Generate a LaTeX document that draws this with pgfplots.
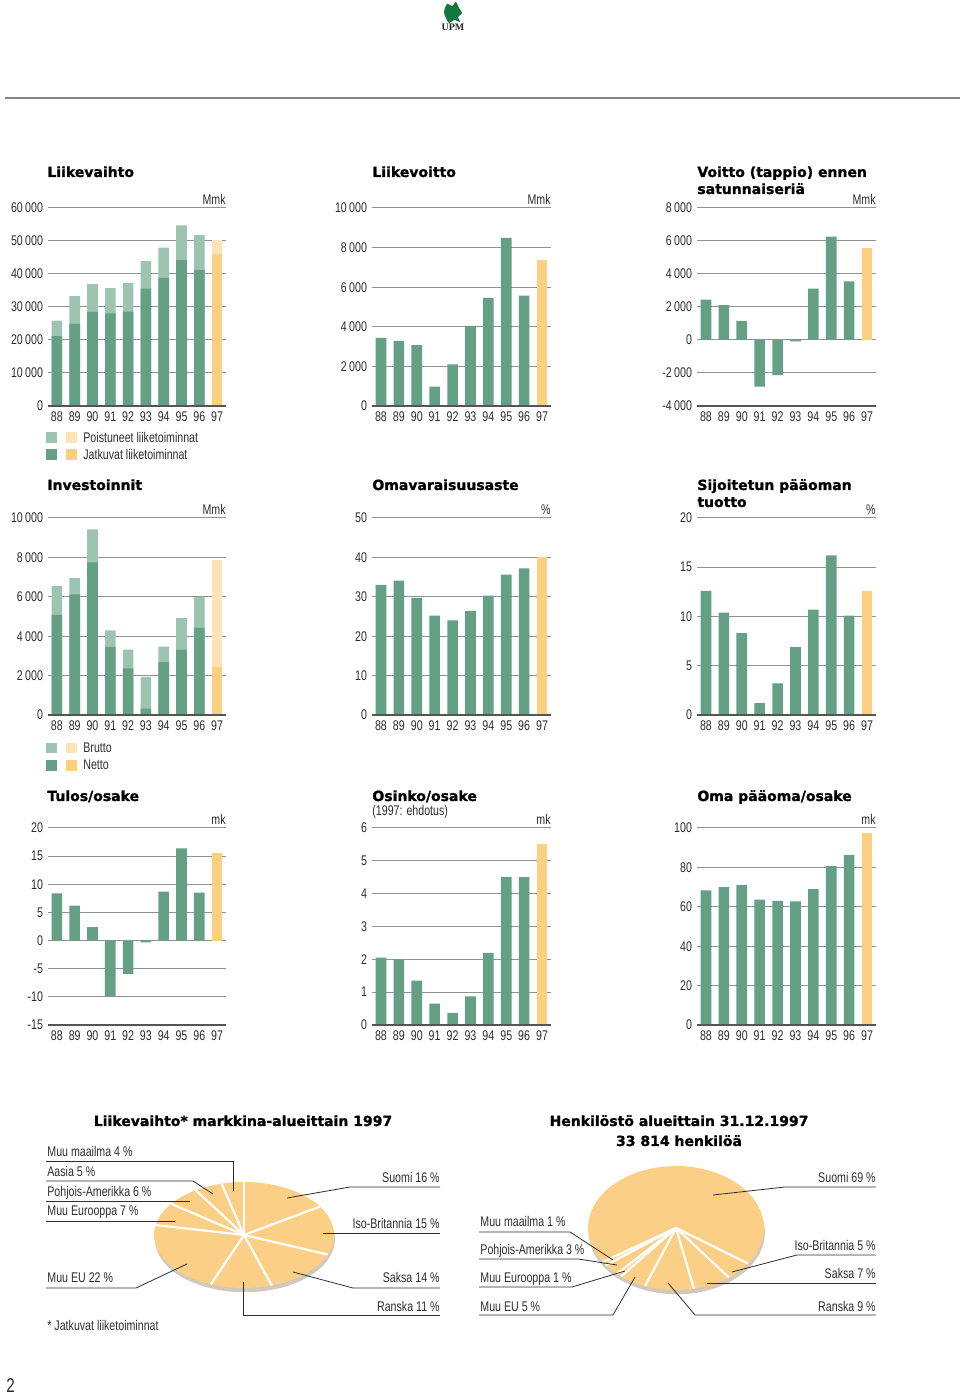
\documentclass[border=0pt]{standalone}
\usepackage{fontspec}
\setmainfont{Liberation Sans}[FakeStretch=0.76]
\newfontfamily\titlefont{DejaVu Sans}[BoldFeatures={FakeBold=1.2}]
\newfontfamily\serifbold{Liberation Serif}
\usepackage{pgfplots}
\pgfplotsset{compat=1.18}
\definecolor{dgreen}{RGB}{99,160,134}
\definecolor{lgreen}{RGB}{157,196,178}
\definecolor{dyellow}{RGB}{253,207,128}
\definecolor{lyellow}{RGB}{254,228,182}
\definecolor{pieyel}{RGB}{251,207,134}
\definecolor{pieshadow}{RGB}{210,201,188}
\definecolor{gridgray}{RGB}{145,145,145}
\definecolor{axcol}{RGB}{85,85,85}
\definecolor{labcol}{RGB}{45,45,45}
\definecolor{hdrgray}{RGB}{125,138,132}
\definecolor{upmgreen}{RGB}{20,120,60}
\newcommand\lab{\fontsize{7}{8.4}\selectfont}
\newcommand\ttl{\titlefont\bfseries\fontsize{7}{8.4}\selectfont}
\pgfplotsset{
  bc/.style={
    scale only axis, anchor=south west,
    ybar, bar width=5.3pt, bar shift=0pt,
    xmin=87.5, xmax=97.5, enlargelimits=false,
    xtick={88,89,90,91,92,93,94,95,96,97},
    xticklabels={88,89,90,91,92,93,94,95,96,97},
    scaled y ticks=false,
    axis line style={draw=none}, tick style={draw=none},
    ymajorgrids, grid style={gridgray, line width=0.5pt},
    tick label style={font=\lab, text=labcol},
    xticklabel style={yshift=5pt},
    yticklabel style={xshift=1pt},
    clip=false,
  },
  pie/.style={
    scale only axis, anchor=center, hide axis, clip=false,
    xmin=-1, xmax=1, ymin=-1, ymax=1, enlargelimits=false,
  },
}
\newcommand\bottomline{\draw[axcol, line width=0.6pt] (rel axis cs:0,0) -- (rel axis cs:1,0);}
\newcommand\unit[1]{\node[anchor=base east, font=\lab, text=labcol, inner sep=0pt] at (rel axis cs:1,1) [yshift=1.6pt] {#1};}
% start angle, cumulative percent from, to
\newcommand\pieslice[3]{\fill[pieyel] (axis cs:0,0) -- plot[domain={#1-3.6*#2}:{#1-3.6*#3}, samples=40, variable=\q] (axis cs:{cos(\q)},{sin(\q)}) -- cycle;}
\newcommand\piecut[2]{\draw[white, line width=1.1pt] (axis cs:0,0) -- (axis cs:{cos(#1-3.6*#2)},{sin(#1-3.6*#2)});}
\begin{document}
\begin{tikzpicture}[x=0.5pt, y=0.5pt]
\useasboundingbox (0,0) rectangle (960,1394);
% header
\draw[hdrgray, line width=1pt] (5,1296) -- (960,1296);
\fill[upmgreen] plot[smooth cycle] coordinates {(447,1390) (452,1388) (456,1392) (459,1386) (462,1381) (458,1377) (460,1372) (454,1374) (449,1371) (446,1376) (444,1382)};
\node[font=\serifbold\bfseries\fontsize{5}{6}\selectfont, text=black!85] at (453,1367) {UPM};
\node[anchor=base west, font=\fontsize{10}{12}\selectfont, text=labcol, inner sep=0pt] at (6,2) {2};

% ---------------- Row 1 ----------------
\node[anchor=base west, inner sep=0pt, font=\ttl] at (47,1217) {Liikevaihto};
\begin{axis}[bc, at={(24pt,494pt)}, width=89pt, height=99pt, ymin=0, ymax=60000,
  ytick={0,10000,20000,30000,40000,50000,60000},
  yticklabels={0,10\,000,20\,000,30\,000,40\,000,50\,000,60\,000}]
\addplot[fill=lgreen, draw=none] coordinates {(88,25900) (89,33300) (90,36900) (91,35700) (92,37300) (93,43900) (94,48000) (95,54700) (96,51800)};
\addplot[fill=lyellow, draw=none] coordinates {(97,50300)};
\addplot[fill=dgreen, draw=none] coordinates {(88,21200) (89,24900) (90,28500) (91,28100) (92,28600) (93,35600) (94,38800) (95,44200) (96,41200)};
\addplot[fill=dyellow, draw=none] coordinates {(97,46200)};
\bottomline
\unit{Mmk}
\end{axis}
\fill[lgreen] (46,951) rectangle (57,962);
\fill[lyellow] (66,951) rectangle (77,962);
\fill[dgreen] (46,934) rectangle (57,945);
\fill[dyellow] (66,934) rectangle (77,945);
\node[anchor=base west, inner sep=0pt, font=\lab, text=labcol] at (83,951) {Poistuneet liiketoiminnat};
\node[anchor=base west, inner sep=0pt, font=\lab, text=labcol] at (83,934) {Jatkuvat liiketoiminnat};

\node[anchor=base west, inner sep=0pt, font=\ttl] at (372,1217) {Liikevoitto};
\begin{axis}[bc, at={(186pt,494pt)}, width=89.5pt, height=99pt, ymin=0, ymax=10000,
  ytick={0,2000,4000,6000,8000,10000},
  yticklabels={0,2\,000,4\,000,6\,000,8\,000,10\,000}]
\addplot[fill=dgreen, draw=none] coordinates {(88,3440) (89,3270) (90,3070) (91,980) (92,2100) (93,4050) (94,5460) (95,8490) (96,5580)};
\addplot[fill=dyellow, draw=none] coordinates {(97,7370)};
\bottomline
\unit{Mmk}
\end{axis}

\node[anchor=base west, inner sep=0pt, font=\ttl] at (697,1217) {Voitto (tappio) ennen};
\node[anchor=base west, inner sep=0pt, font=\ttl] at (697,1200) {satunnaiseriä};
\begin{axis}[bc, at={(348.5pt,494pt)}, width=89.5pt, height=99pt, ymin=-4000, ymax=8000,
  ytick={-4000,-2000,0,2000,4000,6000,8000},
  yticklabels={-4\,000,-2\,000,0,2\,000,4\,000,6\,000,8\,000}]
\addplot[fill=dgreen, draw=none] coordinates {(88,2440) (89,2110) (90,1160) (91,-2820) (92,-2130) (93,-80) (94,3110) (95,6270) (96,3550)};
\addplot[fill=dyellow, draw=none] coordinates {(97,5580)};
\bottomline
\unit{Mmk}
\end{axis}

% ---------------- Row 2 ----------------
\node[anchor=base west, inner sep=0pt, font=\ttl] at (47,904) {Investoinnit};
\begin{axis}[bc, at={(24pt,339.5pt)}, width=89pt, height=98.5pt, ymin=0, ymax=10000,
  ytick={0,2000,4000,6000,8000,10000},
  yticklabels={0,2\,000,4\,000,6\,000,8\,000,10\,000}]
\addplot[fill=lgreen, draw=none] coordinates {(88,6540) (89,6950) (90,9420) (91,4290) (92,3320) (93,1930) (94,3470) (95,4920) (96,6000)};
\addplot[fill=lyellow, draw=none] coordinates {(97,7880)};
\addplot[fill=dgreen, draw=none] coordinates {(88,5080) (89,6120) (90,7750) (91,3460) (92,2370) (93,320) (94,2690) (95,3320) (96,4420)};
\addplot[fill=dyellow, draw=none] coordinates {(97,2460)};
\bottomline
\unit{Mmk}
\end{axis}
\fill[lgreen] (46,641) rectangle (57,651);
\fill[lyellow] (66,641) rectangle (77,651);
\fill[dgreen] (46,623) rectangle (57,634);
\fill[dyellow] (66,623) rectangle (77,634);
\node[anchor=base west, inner sep=0pt, font=\lab, text=labcol] at (83,641) {Brutto};
\node[anchor=base west, inner sep=0pt, font=\lab, text=labcol] at (83,624) {Netto};

\node[anchor=base west, inner sep=0pt, font=\ttl] at (372,904) {Omavaraisuusaste};
\begin{axis}[bc, at={(186pt,339.5pt)}, width=89.5pt, height=98.5pt, ymin=0, ymax=50,
  ytick={0,10,20,30,40,50}, yticklabels={0,10,20,30,40,50}]
\addplot[fill=dgreen, draw=none] coordinates {(88,33.0) (89,34.1) (90,29.7) (91,25.2) (92,24.0) (93,26.4) (94,30.3) (95,35.6) (96,37.2)};
\addplot[fill=dyellow, draw=none] coordinates {(97,40.0)};
\bottomline
\unit{\%}
\end{axis}

\node[anchor=base west, inner sep=0pt, font=\ttl] at (697,904) {Sijoitetun pääoman};
\node[anchor=base west, inner sep=0pt, font=\ttl] at (697,887) {tuotto};
\begin{axis}[bc, at={(348.5pt,339.5pt)}, width=89.5pt, height=98.5pt, ymin=0, ymax=20,
  ytick={0,5,10,15,20}, yticklabels={0,5,10,15,20}]
\addplot[fill=dgreen, draw=none] coordinates {(88,12.6) (89,10.4) (90,8.3) (91,1.2) (92,3.2) (93,6.9) (94,10.7) (95,16.2) (96,10.1)};
\addplot[fill=dyellow, draw=none] coordinates {(97,12.6)};
\bottomline
\unit{\%}
\end{axis}

% ---------------- Row 3 ----------------
\node[anchor=base west, inner sep=0pt, font=\ttl] at (47,593) {Tulos/osake};
\begin{axis}[bc, at={(24pt,184.5pt)}, width=89pt, height=98.5pt, ymin=-15, ymax=20,
  ytick={-15,-10,-5,0,5,10,15,20}, yticklabels={-15,-10,-5,0,5,10,15,20}]
\addplot[fill=dgreen, draw=none] coordinates {(88,8.4) (89,6.2) (90,2.4) (91,-9.9) (92,-5.9) (93,-0.3) (94,8.7) (95,16.4) (96,8.5)};
\addplot[fill=dyellow, draw=none] coordinates {(97,15.5)};
\bottomline
\unit{mk}
\end{axis}

\node[anchor=base west, inner sep=0pt, font=\ttl] at (372,593) {Osinko/osake};
\node[anchor=base west, inner sep=0pt, font=\lab, text=labcol] at (372,578) {(1997: ehdotus)};
\begin{axis}[bc, at={(186pt,184.5pt)}, width=89.5pt, height=98.5pt, ymin=0, ymax=6,
  ytick={0,1,2,3,4,5,6}, yticklabels={0,1,2,3,4,5,6}]
\addplot[fill=dgreen, draw=none] coordinates {(88,2.05) (89,2.0) (90,1.35) (91,0.65) (92,0.37) (93,0.87) (94,2.2) (95,4.5) (96,4.5)};
\addplot[fill=dyellow, draw=none] coordinates {(97,5.5)};
\bottomline
\unit{mk}
\end{axis}

\node[anchor=base west, inner sep=0pt, font=\ttl] at (697,593) {Oma pääoma/osake};
\begin{axis}[bc, at={(348.5pt,184.5pt)}, width=89.5pt, height=98.5pt, ymin=0, ymax=100,
  ytick={0,20,40,60,80,100}, yticklabels={0,20,40,60,80,100}]
\addplot[fill=dgreen, draw=none] coordinates {(88,68.3) (89,70.0) (90,71.0) (91,63.6) (92,63.0) (93,62.7) (94,69.0) (95,80.7) (96,86.3)};
\addplot[fill=dyellow, draw=none] coordinates {(97,97.6)};
\bottomline
\unit{mk}
\end{axis}

% ---------------- Pies ----------------
\node[anchor=base, inner sep=0pt, font=\ttl] at (243,268) {Liikevaihto* markkina-alueittain 1997};
\begin{axis}[pie, at={(122pt,79.5pt)}, width=90pt, height=53pt]
\fill[pieshadow] plot[domain=0:360, samples=90, variable=\q] (axis cs:{cos(\q)+0.01},{sin(\q)-0.08}) -- cycle;
% Suomi 16, Iso-Britannia 15, Saksa 14, Ranska 11, Muu EU 22, Muu Eurooppa 7, Pohjois-Amerikka 6, Aasia 5, Muu maailma 4
\pieslice{90}{0}{16}
\pieslice{90}{16}{31}
\pieslice{90}{31}{45}
\pieslice{90}{45}{56}
\pieslice{90}{56}{78}
\pieslice{90}{78}{85}
\pieslice{90}{85}{91}
\pieslice{90}{91}{96}
\pieslice{90}{96}{100}
\piecut{90}{0}\piecut{90}{16}\piecut{90}{31}\piecut{90}{45}\piecut{90}{56}
\piecut{90}{78}\piecut{90}{85}\piecut{90}{91}\piecut{90}{96}
\end{axis}
\begin{scope}[labcol, line width=0.4pt]
\draw (46,233) -- (233,233) -- (233,203);
\draw (46,213) -- (193,213) -- (213,200);
\draw (46,193) -- (190,193);
\draw (46,173) -- (175,173);
\draw (46,106) -- (136,106) -- (187,130);
\draw (440,207) -- (350,207) -- (287,196);
\draw (440,161) -- (323,161);
\draw (440,106) -- (353,106) -- (293,122);
\draw (440,79) -- (243,79) -- (243,112);
\end{scope}
\begin{scope}[every node/.style={inner sep=0pt, font=\lab, text=labcol}]
\node[anchor=base west] at (47,237) {Muu maailma 4 \%};
\node[anchor=base west] at (47,217) {Aasia 5 \%};
\node[anchor=base west] at (47,197) {Pohjois-Amerikka 6 \%};
\node[anchor=base west] at (47,178) {Muu Eurooppa 7 \%};
\node[anchor=base west] at (47,111) {Muu EU 22 \%};
\node[anchor=base east] at (440,211) {Suomi 16 \%};
\node[anchor=base east] at (440,165) {Iso-Britannia 15 \%};
\node[anchor=base east] at (440,111) {Saksa 14 \%};
\node[anchor=base east] at (440,83) {Ranska 11 \%};
\node[anchor=base west] at (47,63) {* Jatkuvat liiketoiminnat};
\end{scope}

\node[anchor=base, inner sep=0pt, font=\ttl] at (679,268) {Henkilöstö alueittain 31.12.1997};
\node[anchor=base, inner sep=0pt, font=\ttl] at (679,248) {33 814 henkilöä};
\begin{axis}[pie, at={(338pt,83pt)}, width=88pt, height=62pt]
\fill[pieshadow] plot[domain=0:360, samples=90, variable=\q] (axis cs:{cos(\q)+0.01},{sin(\q)-0.07}) -- cycle;
% Suomi 69, Iso-Britannia 5, Saksa 7, Ranska 9, Muu EU 5, Muu Eurooppa 1, Pohjois-Amerikka 3, Muu maailma 1
\pieslice{213.4}{0}{69}
\pieslice{213.4}{69}{74}
\pieslice{213.4}{74}{81}
\pieslice{213.4}{81}{90}
\pieslice{213.4}{90}{95}
\pieslice{213.4}{95}{96}
\pieslice{213.4}{96}{99}
\pieslice{213.4}{99}{100}
\piecut{213.4}{0}\piecut{213.4}{69}\piecut{213.4}{74}\piecut{213.4}{81}
\piecut{213.4}{90}\piecut{213.4}{95}\piecut{213.4}{96}\piecut{213.4}{99}
\end{axis}
\begin{scope}[labcol, line width=0.4pt]
\draw (876,207) -- (785,207) -- (713,199);
\draw (876,139) -- (797,139) -- (732,122);
\draw (876,111) -- (707,111);
\draw (876,79) -- (695,79) -- (668,111);
\draw (479,162) -- (570,162) -- (613,134);
\draw (479,135) -- (578,135) -- (617,129);
\draw (479,107) -- (572,107) -- (625,123);
\draw (479,79) -- (613,79) -- (635,117);
\end{scope}
\begin{scope}[every node/.style={inner sep=0pt, font=\lab, text=labcol}]
\node[anchor=base east] at (876,211) {Suomi 69 \%};
\node[anchor=base east] at (876,143) {Iso-Britannia 5 \%};
\node[anchor=base east] at (876,115) {Saksa 7 \%};
\node[anchor=base east] at (876,83) {Ranska 9 \%};
\node[anchor=base west] at (480,167) {Muu maailma 1 \%};
\node[anchor=base west] at (480,139) {Pohjois-Amerikka 3 \%};
\node[anchor=base west] at (480,111) {Muu Eurooppa 1 \%};
\node[anchor=base west] at (480,83) {Muu EU 5 \%};
\end{scope}
\end{tikzpicture}
\end{document}
